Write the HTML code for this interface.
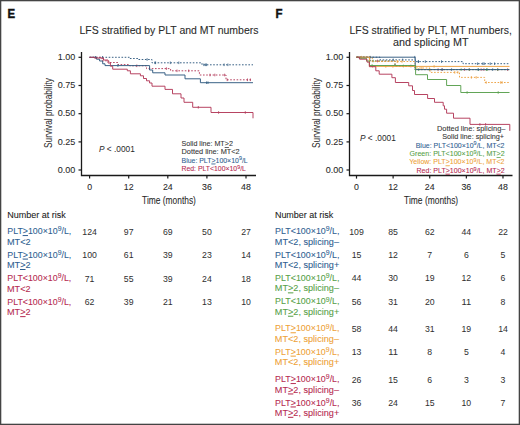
<!DOCTYPE html>
<html><head><meta charset="utf-8"><style>
html,body{margin:0;padding:0;background:#fff;overflow:hidden;}
svg{display:block;font-family:"Liberation Sans",sans-serif;}
</style></head><body>
<svg width="520" height="425" viewBox="0 0 520 425">
<rect width="520" height="425" fill="#fff"/>
<rect x="0.5" y="0.5" width="519" height="424" fill="none" stroke="#444" stroke-width="1.6"/>
<text x="7.6" y="18" font-size="12.5" fill="#111" stroke="#111" stroke-width="0.45" textLength="7.6" lengthAdjust="spacingAndGlyphs" font-weight="bold">E</text>
<text x="275.5" y="18" font-size="12.5" fill="#111" stroke="#111" stroke-width="0.45" textLength="7.0" lengthAdjust="spacingAndGlyphs" font-weight="bold">F</text>
<text x="79.5" y="33.8" font-size="10.2" fill="#2a2a2a" stroke="#2a2a2a" stroke-width="0.08" textLength="179.0" lengthAdjust="spacingAndGlyphs">LFS stratified by PLT and MT numbers</text>
<text x="349.5" y="33.8" font-size="10.2" fill="#2a2a2a" stroke="#2a2a2a" stroke-width="0.08" textLength="162.3" lengthAdjust="spacingAndGlyphs">LFS stratified by PLT, MT numbers,</text>
<text x="393.1" y="45.8" font-size="10.2" fill="#2a2a2a" stroke="#2a2a2a" stroke-width="0.08" textLength="75.4" lengthAdjust="spacingAndGlyphs">and splicing MT</text>
<path d="M81.5,52 V175.5 H256" fill="none" stroke="#1a1a1a" stroke-width="1.3"/>
<path d="M78.5,57.3 H81.5" stroke="#1a1a1a" stroke-width="1.2"/>
<path d="M78.5,85.5 H81.5" stroke="#1a1a1a" stroke-width="1.2"/>
<path d="M78.5,113.7 H81.5" stroke="#1a1a1a" stroke-width="1.2"/>
<path d="M78.5,141.9 H81.5" stroke="#1a1a1a" stroke-width="1.2"/>
<path d="M78.5,170.0 H81.5" stroke="#1a1a1a" stroke-width="1.2"/>
<path d="M89.6,175.5 V178.6" stroke="#1a1a1a" stroke-width="1.2"/>
<path d="M128.7,175.5 V178.6" stroke="#1a1a1a" stroke-width="1.2"/>
<path d="M167.8,175.5 V178.6" stroke="#1a1a1a" stroke-width="1.2"/>
<path d="M206.9,175.5 V178.6" stroke="#1a1a1a" stroke-width="1.2"/>
<path d="M246.0,175.5 V178.6" stroke="#1a1a1a" stroke-width="1.2"/>
<text x="75.2" y="59.9" font-size="9" fill="#2a2a2a" stroke="#2a2a2a" stroke-width="0.08" text-anchor="end">1.00</text>
<text x="75.2" y="88.1" font-size="9" fill="#2a2a2a" stroke="#2a2a2a" stroke-width="0.08" text-anchor="end">0.75</text>
<text x="75.2" y="116.3" font-size="9" fill="#2a2a2a" stroke="#2a2a2a" stroke-width="0.08" text-anchor="end">0.50</text>
<text x="75.2" y="144.5" font-size="9" fill="#2a2a2a" stroke="#2a2a2a" stroke-width="0.08" text-anchor="end">0.25</text>
<text x="75.2" y="172.6" font-size="9" fill="#2a2a2a" stroke="#2a2a2a" stroke-width="0.08" text-anchor="end">0.00</text>
<text x="89.6" y="189.6" font-size="8.8" fill="#2a2a2a" stroke="#2a2a2a" stroke-width="0.08" text-anchor="middle">0</text>
<text x="128.7" y="189.6" font-size="8.8" fill="#2a2a2a" stroke="#2a2a2a" stroke-width="0.08" text-anchor="middle">12</text>
<text x="167.8" y="189.6" font-size="8.8" fill="#2a2a2a" stroke="#2a2a2a" stroke-width="0.08" text-anchor="middle">24</text>
<text x="206.9" y="189.6" font-size="8.8" fill="#2a2a2a" stroke="#2a2a2a" stroke-width="0.08" text-anchor="middle">36</text>
<text x="246.0" y="189.6" font-size="8.8" fill="#2a2a2a" stroke="#2a2a2a" stroke-width="0.08" text-anchor="middle">48</text>
<path d="M349.5,52 V175.5 H512.5" fill="none" stroke="#1a1a1a" stroke-width="1.3"/>
<path d="M346.5,57.3 H349.5" stroke="#1a1a1a" stroke-width="1.2"/>
<path d="M346.5,85.5 H349.5" stroke="#1a1a1a" stroke-width="1.2"/>
<path d="M346.5,113.7 H349.5" stroke="#1a1a1a" stroke-width="1.2"/>
<path d="M346.5,141.9 H349.5" stroke="#1a1a1a" stroke-width="1.2"/>
<path d="M346.5,170.0 H349.5" stroke="#1a1a1a" stroke-width="1.2"/>
<path d="M356.5,175.5 V178.6" stroke="#1a1a1a" stroke-width="1.2"/>
<path d="M393.12,175.5 V178.6" stroke="#1a1a1a" stroke-width="1.2"/>
<path d="M429.74,175.5 V178.6" stroke="#1a1a1a" stroke-width="1.2"/>
<path d="M466.36,175.5 V178.6" stroke="#1a1a1a" stroke-width="1.2"/>
<path d="M502.98,175.5 V178.6" stroke="#1a1a1a" stroke-width="1.2"/>
<text x="343.2" y="59.9" font-size="9" fill="#2a2a2a" stroke="#2a2a2a" stroke-width="0.08" text-anchor="end">1.00</text>
<text x="343.2" y="88.1" font-size="9" fill="#2a2a2a" stroke="#2a2a2a" stroke-width="0.08" text-anchor="end">0.75</text>
<text x="343.2" y="116.3" font-size="9" fill="#2a2a2a" stroke="#2a2a2a" stroke-width="0.08" text-anchor="end">0.50</text>
<text x="343.2" y="144.5" font-size="9" fill="#2a2a2a" stroke="#2a2a2a" stroke-width="0.08" text-anchor="end">0.25</text>
<text x="343.2" y="172.6" font-size="9" fill="#2a2a2a" stroke="#2a2a2a" stroke-width="0.08" text-anchor="end">0.00</text>
<text x="356.5" y="189.6" font-size="8.8" fill="#2a2a2a" stroke="#2a2a2a" stroke-width="0.08" text-anchor="middle">0</text>
<text x="393.12" y="189.6" font-size="8.8" fill="#2a2a2a" stroke="#2a2a2a" stroke-width="0.08" text-anchor="middle">12</text>
<text x="429.74" y="189.6" font-size="8.8" fill="#2a2a2a" stroke="#2a2a2a" stroke-width="0.08" text-anchor="middle">24</text>
<text x="466.36" y="189.6" font-size="8.8" fill="#2a2a2a" stroke="#2a2a2a" stroke-width="0.08" text-anchor="middle">36</text>
<text x="502.98" y="189.6" font-size="8.8" fill="#2a2a2a" stroke="#2a2a2a" stroke-width="0.08" text-anchor="middle">48</text>
<text x="0" y="0" font-size="10.5" fill="#2a2a2a" text-anchor="middle" textLength="70" lengthAdjust="spacingAndGlyphs" transform="translate(52.3,113) rotate(-90)">Survival probability</text>
<text x="0" y="0" font-size="10.5" fill="#2a2a2a" text-anchor="middle" textLength="70" lengthAdjust="spacingAndGlyphs" transform="translate(320.3,113) rotate(-90)">Survival probability</text>
<text x="142.1" y="204.3" font-size="10" fill="#2a2a2a" stroke="#2a2a2a" stroke-width="0.08" textLength="53.8" lengthAdjust="spacingAndGlyphs">Time (months)</text>
<text x="404.1" y="204.3" font-size="10" fill="#2a2a2a" stroke="#2a2a2a" stroke-width="0.08" textLength="54.1" lengthAdjust="spacingAndGlyphs">Time (months)</text>
<text x="99" y="151.5" font-size="8.3" fill="#2a2a2a"><tspan font-style="italic">P</tspan> &lt; .0001</text>
<text x="360" y="141" font-size="8.3" fill="#2a2a2a"><tspan font-style="italic">P</tspan> &lt; .0001</text>
<text x="181.5" y="146.2" font-size="7.4" fill="#333" stroke="#333" stroke-width="0.08" textLength="51.4" lengthAdjust="spacingAndGlyphs">Solid line: MT<tspan text-decoration="underline">&gt;</tspan>2</text>
<text x="181.5" y="154.39999999999998" font-size="7.4" fill="#333" stroke="#333" stroke-width="0.08" textLength="58.2" lengthAdjust="spacingAndGlyphs">Dotted line: MT&lt;2</text>
<text x="181.5" y="162.6" font-size="7.4" fill="#2e5d90" stroke="#2e5d90" stroke-width="0.08" textLength="66.2" lengthAdjust="spacingAndGlyphs">Blue: PLT<tspan text-decoration="underline">&gt;</tspan>100×10<tspan font-size="5.77" dy="-2.22">9</tspan><tspan dy="2.22">/L</tspan></text>
<text x="181.5" y="170.79999999999998" font-size="7.4" fill="#b5294f" stroke="#b5294f" stroke-width="0.08" textLength="64.4" lengthAdjust="spacingAndGlyphs">Red: PLT&lt;100×10<tspan font-size="5.77" dy="-2.22">9</tspan><tspan dy="2.22">/L</tspan></text>
<text x="436.9" y="130.9" font-size="7.4" fill="#333" stroke="#333" stroke-width="0.08" textLength="68.5" lengthAdjust="spacingAndGlyphs">Dotted line: splicing–</text>
<text x="442.2" y="139.28" font-size="7.4" fill="#333" stroke="#333" stroke-width="0.08" textLength="61.9" lengthAdjust="spacingAndGlyphs">Solid line: splicing+</text>
<text x="415.7" y="147.66" font-size="7.4" fill="#2e5d90" stroke="#2e5d90" stroke-width="0.08" textLength="88.8" lengthAdjust="spacingAndGlyphs">Blue: PLT&lt;100×10<tspan font-size="5.77" dy="-2.22">9</tspan><tspan dy="2.22">/L, MT&lt;2</tspan></text>
<text x="409.6" y="156.04000000000002" font-size="7.4" fill="#55a046" stroke="#55a046" stroke-width="0.08" textLength="95.1" lengthAdjust="spacingAndGlyphs">Green: PLT&lt;100×10<tspan font-size="5.77" dy="-2.22">9</tspan><tspan dy="2.22">/L, MT<tspan text-decoration="underline">&gt;</tspan>2</tspan></text>
<text x="409.3" y="164.42000000000002" font-size="7.4" fill="#eea136" stroke="#eea136" stroke-width="0.08" textLength="95.2" lengthAdjust="spacingAndGlyphs">Yellow: PLT<tspan text-decoration="underline">&gt;</tspan>100×10<tspan font-size="5.77" dy="-2.22">9</tspan><tspan dy="2.22">/L, MT&lt;2</tspan></text>
<text x="416.5" y="172.8" font-size="7.4" fill="#b5294f" stroke="#b5294f" stroke-width="0.08" textLength="88.2" lengthAdjust="spacingAndGlyphs">Red: PLT<tspan text-decoration="underline">&gt;</tspan>100×10<tspan font-size="5.77" dy="-2.22">9</tspan><tspan dy="2.22">/L, MT<tspan text-decoration="underline">&gt;</tspan>2</tspan></text>
<path d="M89.5,57.3 H129.6 V58.5 H138 V59.5 H152 V62.8 H202 V64.8 H253" fill="none" stroke="#2f5a80" stroke-width="0.95" stroke-dasharray="1.6,1.6"/>
<path d="M102.5,56.0V58.6M95.5,56.0V58.6M147.1,58.2V60.8M155.6,61.5V64.1M178.8,61.5V64.1M170.3,61.5V64.1M154.9,61.5V64.1M227.9,63.5V66.1M203.9,63.5V66.1M224.1,63.5V66.1M205.6,63.5V66.1M206.6,63.5V66.1" stroke="#2f5a80" stroke-width="0.8"/>
<path d="M89.5,57.3 H102 V60.8 H108.8 V62.5 H118 V64.6 H129.6 V65.8 H146.5 V68.6 H170.6 V70.8 H199.4 V75 H226 V79.8 H251" fill="none" stroke="#b33a5a" stroke-width="0.95" stroke-dasharray="1.6,1.6"/>
<path d="M136.8,64.5V67.1M166.4,67.3V69.9M149.5,67.3V69.9M177.0,69.5V72.1M188.7,69.5V72.1M224.6,73.7V76.3M214.8,73.7V76.3M210.0,73.7V76.3M250.4,78.5V81.1M227.2,78.5V81.1M247.5,78.5V81.1" stroke="#b33a5a" stroke-width="0.8"/>
<path d="M89.5,57.3 H96.5 V59.2 H99.6 V61 H102.7 V63.8 H105 V65.6 H149.6 V70 H152.7 V72.8 H165 V75 H185 V78.8 H200.4 V82.7 H253" fill="none" stroke="#2f5a80" stroke-width="0.95"/>
<path d="M117.9,64.3V66.9M208.0,81.4V84.0M206.6,81.4V84.0" stroke="#2f5a80" stroke-width="0.8"/>
<path d="M89.5,57.3 H94.2 V58 H103.5 V60 H108 V63 H110.4 V66.2 H112.7 V69.2 H127.3 V70.8 H130.4 V73.8 H140.4 V75.8 H143.5 V78.5 H146.5 V80.8 H149.6 V83 H152 V86.2 H165 V89.4 H172.5 V93.8 H181 V98 H184 V102.3 H192.7 V107.3 H211 V112.5 H253 V118.3" fill="none" stroke="#b33a5a" stroke-width="0.95"/>
<path d="M198.3,106.0V108.6M245.3,111.2V113.8M218.6,111.2V113.8" stroke="#b33a5a" stroke-width="0.8"/>
<path d="M356.5,57.2 H380 V59.9 H415.5 V61.6 H463 V63.7 H509.5" fill="none" stroke="#2f5a80" stroke-width="0.95" stroke-dasharray="1.6,1.6"/>
<path d="M370.2,55.9V58.5M402.7,58.6V61.2M393.2,58.6V61.2M441.5,60.3V62.9M418.5,60.3V62.9M418.3,60.3V62.9M425.3,60.3V62.9M494.6,62.4V65.0M482.9,62.4V65.0M477.6,62.4V65.0M490.2,62.4V65.0M484.1,62.4V65.0" stroke="#2f5a80" stroke-width="0.8"/>
<path d="M356.5,57.2 H370 V61 H395 V66 H415 V69.6 H509.5" fill="none" stroke="#b33a5a" stroke-width="0.95" stroke-dasharray="1.6,1.6"/>
<path d="M377.5,59.7V62.3M410.9,64.7V67.3M481.1,68.3V70.9M438.1,68.3V70.9M469.3,68.3V70.9M464.6,68.3V70.9M497.7,68.3V70.9M483.9,68.3V70.9M442.2,68.3V70.9M507.6,68.3V70.9" stroke="#b33a5a" stroke-width="0.8"/>
<path d="M356.5,57.2 H370 V61 H395 V66 H415 V69.6 H509.5" fill="none" stroke="#5aa04e" stroke-width="0.95" stroke-dasharray="1.6,1.6"/>
<path d="M373.0,59.7V62.3M403.4,64.7V67.3M486.5,68.3V70.9M429.4,68.3V70.9M461.2,68.3V70.9M418.7,68.3V70.9M478.1,68.3V70.9M487.3,68.3V70.9M469.2,68.3V70.9M497.7,68.3V70.9" stroke="#5aa04e" stroke-width="0.8"/>
<path d="M356.5,57.2 H372.3 V61.5 H415 V68 H430 V72.4 H459.5 V77.4 H484.7 V82.5 H509.5" fill="none" stroke="#eca040" stroke-width="0.95" stroke-dasharray="1.6,1.6"/>
<path d="M361.5,55.9V58.5M402.0,60.2V62.8M397.7,60.2V62.8M397.1,60.2V62.8M421.8,66.7V69.3M454.8,71.1V73.7M457.9,71.1V73.7M471.4,76.1V78.7M476.2,76.1V78.7M486.2,81.2V83.8M502.1,81.2V83.8M500.7,81.2V83.8" stroke="#eca040" stroke-width="0.8"/>
<path d="M356.5,57.2 H415.2 V69.6 H509.5" fill="none" stroke="#2f5a80" stroke-width="0.95"/>
<path d="M414.8,55.9V58.5M492.7,68.3V70.9M442.0,68.3V70.9M451.6,68.3V70.9M478.3,68.3V70.9" stroke="#2f5a80" stroke-width="0.8"/>
<path d="M356.5,57.2 H369.4 V66.4 H509.5" fill="none" stroke="#eca040" stroke-width="0.95"/>
<path d="M372.6,65.1V67.7M434.1,65.1V67.7M392.9,65.1V67.7M385.8,65.1V67.7" stroke="#eca040" stroke-width="0.8"/>
<path d="M356.5,57.2 H359 V58.3 H366.5 V61 H369.4 V65.5 H415.6 V74.7 H427.5 V79.5 H446.6 V85.5 H460.8 V92.5 H509.5" fill="none" stroke="#5aa04e" stroke-width="0.95"/>
<path d="M372.1,64.2V66.8M498.2,91.2V93.8M467.1,91.2V93.8" stroke="#5aa04e" stroke-width="0.8"/>
<path d="M356.5,57.2 H359.6 V59.2 H367 V62.1 H369.4 V66.7 H375.8 V70.8 H379.2 V74.2 H391.9 V77.7 H395.4 V82.5 H408.7 V85.8 H412.5 V90.5 H414.5 V94.5 H427.6 V98.5 H434.5 V102.3 H443.2 V105.8 H444.5 V109.2 H446.6 V113.2 H453.5 V118.2 H470 V124.4 H509.8 V130.8" fill="none" stroke="#b33a5a" stroke-width="0.95"/>
<path d="M479.9,123.1V125.7M485.6,123.1V125.7" stroke="#b33a5a" stroke-width="0.8"/>
<text x="7.2" y="218" font-size="8.85" fill="#222" stroke="#222" stroke-width="0.08" textLength="58.7" lengthAdjust="spacingAndGlyphs">Number at risk</text>
<text x="274.9" y="217.8" font-size="8.85" fill="#222" stroke="#222" stroke-width="0.08" textLength="58.4" lengthAdjust="spacingAndGlyphs">Number at risk</text>
<text x="7.3" y="234.1" font-size="9.15" fill="#2e5d90" stroke="#2e5d90" stroke-width="0.08" textLength="64.0" lengthAdjust="spacingAndGlyphs">PLT<tspan text-decoration="underline">&gt;</tspan>100×10<tspan font-size="7.14" dy="-2.75">9</tspan><tspan dy="2.75">/L,</tspan></text>
<text x="7.0" y="244.5" font-size="9.15" fill="#2e5d90" stroke="#2e5d90" stroke-width="0.08">MT&lt;2</text>
<text x="89.6" y="234.5" font-size="9.9" fill="#2f2f2f" text-anchor="middle" textLength="14.53" lengthAdjust="spacingAndGlyphs">124</text>
<text x="128.7" y="234.5" font-size="9.9" fill="#2f2f2f" text-anchor="middle" textLength="9.69" lengthAdjust="spacingAndGlyphs">97</text>
<text x="167.8" y="234.5" font-size="9.9" fill="#2f2f2f" text-anchor="middle" textLength="9.69" lengthAdjust="spacingAndGlyphs">69</text>
<text x="206.9" y="234.5" font-size="9.9" fill="#2f2f2f" text-anchor="middle" textLength="9.69" lengthAdjust="spacingAndGlyphs">50</text>
<text x="246.0" y="234.5" font-size="9.9" fill="#2f2f2f" text-anchor="middle" textLength="9.69" lengthAdjust="spacingAndGlyphs">27</text>
<text x="7.3" y="257.65" font-size="9.15" fill="#2e5d90" stroke="#2e5d90" stroke-width="0.08" textLength="64.0" lengthAdjust="spacingAndGlyphs">PLT<tspan text-decoration="underline">&gt;</tspan>100×10<tspan font-size="7.14" dy="-2.75">9</tspan><tspan dy="2.75">/L,</tspan></text>
<text x="7.0" y="268.04999999999995" font-size="9.15" fill="#2e5d90" stroke="#2e5d90" stroke-width="0.08">MT<tspan text-decoration="underline">&gt;</tspan>2</text>
<text x="89.6" y="258.05" font-size="9.9" fill="#2f2f2f" text-anchor="middle" textLength="14.53" lengthAdjust="spacingAndGlyphs">100</text>
<text x="128.7" y="258.05" font-size="9.9" fill="#2f2f2f" text-anchor="middle" textLength="9.69" lengthAdjust="spacingAndGlyphs">61</text>
<text x="167.8" y="258.05" font-size="9.9" fill="#2f2f2f" text-anchor="middle" textLength="9.69" lengthAdjust="spacingAndGlyphs">39</text>
<text x="206.9" y="258.05" font-size="9.9" fill="#2f2f2f" text-anchor="middle" textLength="9.69" lengthAdjust="spacingAndGlyphs">23</text>
<text x="246.0" y="258.05" font-size="9.9" fill="#2f2f2f" text-anchor="middle" textLength="9.69" lengthAdjust="spacingAndGlyphs">14</text>
<text x="7.3" y="281.2" font-size="9.15" fill="#b5294f" stroke="#b5294f" stroke-width="0.08" textLength="64.0" lengthAdjust="spacingAndGlyphs">PLT&lt;100×10<tspan font-size="7.14" dy="-2.75">9</tspan><tspan dy="2.75">/L,</tspan></text>
<text x="7.0" y="291.59999999999997" font-size="9.15" fill="#b5294f" stroke="#b5294f" stroke-width="0.08">MT&lt;2</text>
<text x="89.6" y="281.6" font-size="9.9" fill="#2f2f2f" text-anchor="middle" textLength="9.69" lengthAdjust="spacingAndGlyphs">71</text>
<text x="128.7" y="281.6" font-size="9.9" fill="#2f2f2f" text-anchor="middle" textLength="9.69" lengthAdjust="spacingAndGlyphs">55</text>
<text x="167.8" y="281.6" font-size="9.9" fill="#2f2f2f" text-anchor="middle" textLength="9.69" lengthAdjust="spacingAndGlyphs">39</text>
<text x="206.9" y="281.6" font-size="9.9" fill="#2f2f2f" text-anchor="middle" textLength="9.69" lengthAdjust="spacingAndGlyphs">24</text>
<text x="246.0" y="281.6" font-size="9.9" fill="#2f2f2f" text-anchor="middle" textLength="9.69" lengthAdjust="spacingAndGlyphs">18</text>
<text x="7.3" y="304.75" font-size="9.15" fill="#b5294f" stroke="#b5294f" stroke-width="0.08" textLength="64.0" lengthAdjust="spacingAndGlyphs">PLT&lt;100×10<tspan font-size="7.14" dy="-2.75">9</tspan><tspan dy="2.75">/L,</tspan></text>
<text x="7.0" y="315.15" font-size="9.15" fill="#b5294f" stroke="#b5294f" stroke-width="0.08">MT<tspan text-decoration="underline">&gt;</tspan>2</text>
<text x="89.6" y="305.15" font-size="9.9" fill="#2f2f2f" text-anchor="middle" textLength="9.69" lengthAdjust="spacingAndGlyphs">62</text>
<text x="128.7" y="305.15" font-size="9.9" fill="#2f2f2f" text-anchor="middle" textLength="9.69" lengthAdjust="spacingAndGlyphs">39</text>
<text x="167.8" y="305.15" font-size="9.9" fill="#2f2f2f" text-anchor="middle" textLength="9.69" lengthAdjust="spacingAndGlyphs">21</text>
<text x="206.9" y="305.15" font-size="9.9" fill="#2f2f2f" text-anchor="middle" textLength="9.69" lengthAdjust="spacingAndGlyphs">13</text>
<text x="246.0" y="305.15" font-size="9.9" fill="#2f2f2f" text-anchor="middle" textLength="9.69" lengthAdjust="spacingAndGlyphs">10</text>
<text x="275.1" y="234.2" font-size="9.15" fill="#2e5d90" stroke="#2e5d90" stroke-width="0.08" textLength="64.4" lengthAdjust="spacingAndGlyphs">PLT&lt;100×10<tspan font-size="7.14" dy="-2.75">9</tspan><tspan dy="2.75">/L,</tspan></text>
<text x="274.8" y="244.6" font-size="9.15" fill="#2e5d90" stroke="#2e5d90" stroke-width="0.08">MT&lt;2, splicing–</text>
<text x="356.5" y="234.6" font-size="9.9" fill="#2f2f2f" text-anchor="middle" textLength="14.53" lengthAdjust="spacingAndGlyphs">109</text>
<text x="393.12" y="234.6" font-size="9.9" fill="#2f2f2f" text-anchor="middle" textLength="9.69" lengthAdjust="spacingAndGlyphs">85</text>
<text x="429.74" y="234.6" font-size="9.9" fill="#2f2f2f" text-anchor="middle" textLength="9.69" lengthAdjust="spacingAndGlyphs">62</text>
<text x="466.36" y="234.6" font-size="9.9" fill="#2f2f2f" text-anchor="middle" textLength="9.69" lengthAdjust="spacingAndGlyphs">44</text>
<text x="502.98" y="234.6" font-size="9.9" fill="#2f2f2f" text-anchor="middle" textLength="9.69" lengthAdjust="spacingAndGlyphs">22</text>
<text x="275.1" y="257.59999999999997" font-size="9.15" fill="#2e5d90" stroke="#2e5d90" stroke-width="0.08" textLength="64.4" lengthAdjust="spacingAndGlyphs">PLT&lt;100×10<tspan font-size="7.14" dy="-2.75">9</tspan><tspan dy="2.75">/L,</tspan></text>
<text x="274.8" y="267.99999999999994" font-size="9.15" fill="#2e5d90" stroke="#2e5d90" stroke-width="0.08">MT&lt;2, splicing+</text>
<text x="356.5" y="258.0" font-size="9.9" fill="#2f2f2f" text-anchor="middle" textLength="9.69" lengthAdjust="spacingAndGlyphs">15</text>
<text x="393.12" y="258.0" font-size="9.9" fill="#2f2f2f" text-anchor="middle" textLength="9.69" lengthAdjust="spacingAndGlyphs">12</text>
<text x="429.74" y="258.0" font-size="9.9" fill="#2f2f2f" text-anchor="middle" textLength="4.84" lengthAdjust="spacingAndGlyphs">7</text>
<text x="466.36" y="258.0" font-size="9.9" fill="#2f2f2f" text-anchor="middle" textLength="4.84" lengthAdjust="spacingAndGlyphs">6</text>
<text x="502.98" y="258.0" font-size="9.9" fill="#2f2f2f" text-anchor="middle" textLength="4.84" lengthAdjust="spacingAndGlyphs">5</text>
<text x="275.1" y="281.0" font-size="9.15" fill="#55a046" stroke="#55a046" stroke-width="0.08" textLength="64.4" lengthAdjust="spacingAndGlyphs">PLT&lt;100×10<tspan font-size="7.14" dy="-2.75">9</tspan><tspan dy="2.75">/L,</tspan></text>
<text x="274.8" y="291.4" font-size="9.15" fill="#55a046" stroke="#55a046" stroke-width="0.08">MT<tspan text-decoration="underline">&gt;</tspan>2, splicing–</text>
<text x="356.5" y="281.4" font-size="9.9" fill="#2f2f2f" text-anchor="middle" textLength="9.69" lengthAdjust="spacingAndGlyphs">44</text>
<text x="393.12" y="281.4" font-size="9.9" fill="#2f2f2f" text-anchor="middle" textLength="9.69" lengthAdjust="spacingAndGlyphs">30</text>
<text x="429.74" y="281.4" font-size="9.9" fill="#2f2f2f" text-anchor="middle" textLength="9.69" lengthAdjust="spacingAndGlyphs">19</text>
<text x="466.36" y="281.4" font-size="9.9" fill="#2f2f2f" text-anchor="middle" textLength="9.69" lengthAdjust="spacingAndGlyphs">12</text>
<text x="502.98" y="281.4" font-size="9.9" fill="#2f2f2f" text-anchor="middle" textLength="4.84" lengthAdjust="spacingAndGlyphs">6</text>
<text x="275.1" y="304.4" font-size="9.15" fill="#55a046" stroke="#55a046" stroke-width="0.08" textLength="64.4" lengthAdjust="spacingAndGlyphs">PLT&lt;100×10<tspan font-size="7.14" dy="-2.75">9</tspan><tspan dy="2.75">/L,</tspan></text>
<text x="274.8" y="314.79999999999995" font-size="9.15" fill="#55a046" stroke="#55a046" stroke-width="0.08">MT<tspan text-decoration="underline">&gt;</tspan>2, splicing+</text>
<text x="356.5" y="304.8" font-size="9.9" fill="#2f2f2f" text-anchor="middle" textLength="9.69" lengthAdjust="spacingAndGlyphs">56</text>
<text x="393.12" y="304.8" font-size="9.9" fill="#2f2f2f" text-anchor="middle" textLength="9.69" lengthAdjust="spacingAndGlyphs">31</text>
<text x="429.74" y="304.8" font-size="9.9" fill="#2f2f2f" text-anchor="middle" textLength="9.69" lengthAdjust="spacingAndGlyphs">20</text>
<text x="466.36" y="304.8" font-size="9.9" fill="#2f2f2f" text-anchor="middle" textLength="9.69" lengthAdjust="spacingAndGlyphs">11</text>
<text x="502.98" y="304.8" font-size="9.9" fill="#2f2f2f" text-anchor="middle" textLength="4.84" lengthAdjust="spacingAndGlyphs">8</text>
<text x="275.1" y="331.29999999999995" font-size="9.15" fill="#eea136" stroke="#eea136" stroke-width="0.08" textLength="64.4" lengthAdjust="spacingAndGlyphs">PLT<tspan text-decoration="underline">&gt;</tspan>100×10<tspan font-size="7.14" dy="-2.75">9</tspan><tspan dy="2.75">/L,</tspan></text>
<text x="274.8" y="341.69999999999993" font-size="9.15" fill="#eea136" stroke="#eea136" stroke-width="0.08">MT&lt;2, splicing–</text>
<text x="356.5" y="331.7" font-size="9.9" fill="#2f2f2f" text-anchor="middle" textLength="9.69" lengthAdjust="spacingAndGlyphs">58</text>
<text x="393.12" y="331.7" font-size="9.9" fill="#2f2f2f" text-anchor="middle" textLength="9.69" lengthAdjust="spacingAndGlyphs">44</text>
<text x="429.74" y="331.7" font-size="9.9" fill="#2f2f2f" text-anchor="middle" textLength="9.69" lengthAdjust="spacingAndGlyphs">31</text>
<text x="466.36" y="331.7" font-size="9.9" fill="#2f2f2f" text-anchor="middle" textLength="9.69" lengthAdjust="spacingAndGlyphs">19</text>
<text x="502.98" y="331.7" font-size="9.9" fill="#2f2f2f" text-anchor="middle" textLength="9.69" lengthAdjust="spacingAndGlyphs">14</text>
<text x="275.1" y="354.7" font-size="9.15" fill="#eea136" stroke="#eea136" stroke-width="0.08" textLength="64.4" lengthAdjust="spacingAndGlyphs">PLT<tspan text-decoration="underline">&gt;</tspan>100×10<tspan font-size="7.14" dy="-2.75">9</tspan><tspan dy="2.75">/L,</tspan></text>
<text x="274.8" y="365.09999999999997" font-size="9.15" fill="#eea136" stroke="#eea136" stroke-width="0.08">MT&lt;2, splicing+</text>
<text x="356.5" y="355.1" font-size="9.9" fill="#2f2f2f" text-anchor="middle" textLength="9.69" lengthAdjust="spacingAndGlyphs">13</text>
<text x="393.12" y="355.1" font-size="9.9" fill="#2f2f2f" text-anchor="middle" textLength="9.69" lengthAdjust="spacingAndGlyphs">11</text>
<text x="429.74" y="355.1" font-size="9.9" fill="#2f2f2f" text-anchor="middle" textLength="4.84" lengthAdjust="spacingAndGlyphs">8</text>
<text x="466.36" y="355.1" font-size="9.9" fill="#2f2f2f" text-anchor="middle" textLength="4.84" lengthAdjust="spacingAndGlyphs">5</text>
<text x="502.98" y="355.1" font-size="9.9" fill="#2f2f2f" text-anchor="middle" textLength="4.84" lengthAdjust="spacingAndGlyphs">4</text>
<text x="275.1" y="382.09999999999997" font-size="9.15" fill="#b5294f" stroke="#b5294f" stroke-width="0.08" textLength="64.4" lengthAdjust="spacingAndGlyphs">PLT<tspan text-decoration="underline">&gt;</tspan>100×10<tspan font-size="7.14" dy="-2.75">9</tspan><tspan dy="2.75">/L,</tspan></text>
<text x="274.8" y="392.49999999999994" font-size="9.15" fill="#b5294f" stroke="#b5294f" stroke-width="0.08">MT<tspan text-decoration="underline">&gt;</tspan>2, splicing–</text>
<text x="356.5" y="382.5" font-size="9.9" fill="#2f2f2f" text-anchor="middle" textLength="9.69" lengthAdjust="spacingAndGlyphs">26</text>
<text x="393.12" y="382.5" font-size="9.9" fill="#2f2f2f" text-anchor="middle" textLength="9.69" lengthAdjust="spacingAndGlyphs">15</text>
<text x="429.74" y="382.5" font-size="9.9" fill="#2f2f2f" text-anchor="middle" textLength="4.84" lengthAdjust="spacingAndGlyphs">6</text>
<text x="466.36" y="382.5" font-size="9.9" fill="#2f2f2f" text-anchor="middle" textLength="4.84" lengthAdjust="spacingAndGlyphs">3</text>
<text x="502.98" y="382.5" font-size="9.9" fill="#2f2f2f" text-anchor="middle" textLength="4.84" lengthAdjust="spacingAndGlyphs">3</text>
<text x="275.1" y="405.5" font-size="9.15" fill="#b5294f" stroke="#b5294f" stroke-width="0.08" textLength="64.4" lengthAdjust="spacingAndGlyphs">PLT<tspan text-decoration="underline">&gt;</tspan>100×10<tspan font-size="7.14" dy="-2.75">9</tspan><tspan dy="2.75">/L,</tspan></text>
<text x="274.8" y="415.9" font-size="9.15" fill="#b5294f" stroke="#b5294f" stroke-width="0.08">MT<tspan text-decoration="underline">&gt;</tspan>2, splicing+</text>
<text x="356.5" y="405.9" font-size="9.9" fill="#2f2f2f" text-anchor="middle" textLength="9.69" lengthAdjust="spacingAndGlyphs">36</text>
<text x="393.12" y="405.9" font-size="9.9" fill="#2f2f2f" text-anchor="middle" textLength="9.69" lengthAdjust="spacingAndGlyphs">24</text>
<text x="429.74" y="405.9" font-size="9.9" fill="#2f2f2f" text-anchor="middle" textLength="9.69" lengthAdjust="spacingAndGlyphs">15</text>
<text x="466.36" y="405.9" font-size="9.9" fill="#2f2f2f" text-anchor="middle" textLength="9.69" lengthAdjust="spacingAndGlyphs">10</text>
<text x="502.98" y="405.9" font-size="9.9" fill="#2f2f2f" text-anchor="middle" textLength="4.84" lengthAdjust="spacingAndGlyphs">7</text>
</svg>
</body></html>
